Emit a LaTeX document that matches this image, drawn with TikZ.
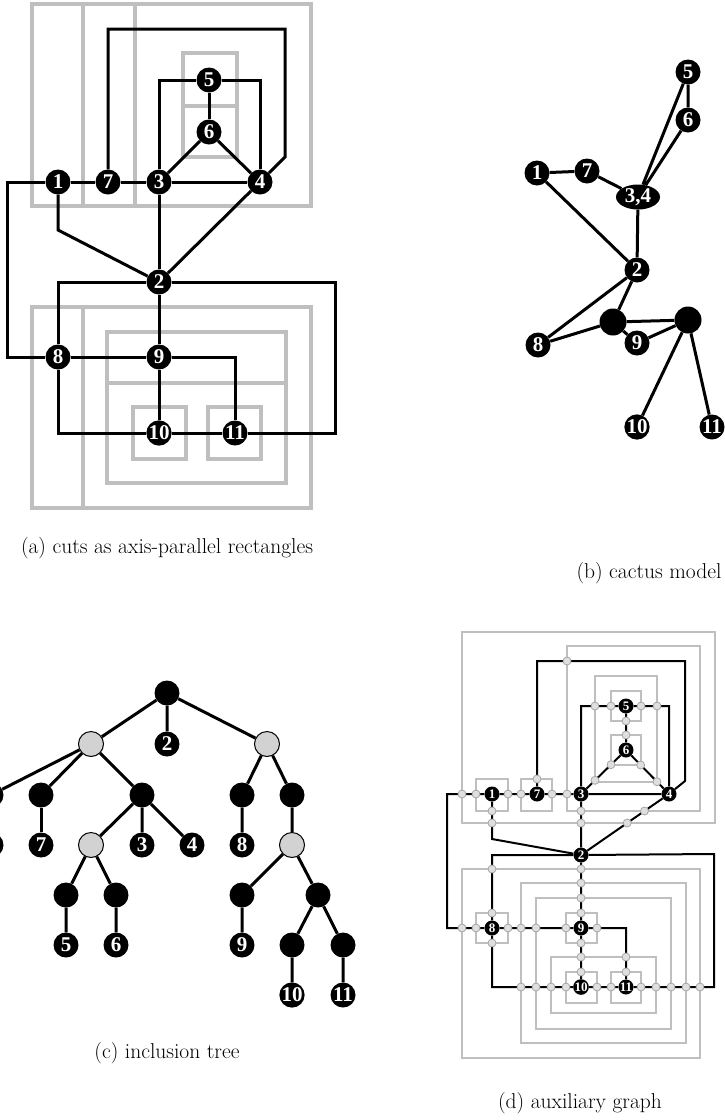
\documentclass[tikz,border=0pt]{standalone}
\usepackage{fontspec}
\usetikzlibrary{shapes.geometric,intersections}
\newfontfamily\numfont{Liberation Serif}

\tikzset{
  vtx/.style={circle,fill=black,text=white,inner sep=0pt,minimum size=25pt,
    font=\numfont\bfseries\fontsize{21}{21}\selectfont},
  svtx/.style={circle,fill=black,text=white,inner sep=0pt,minimum size=15pt,
    font=\numfont\bfseries\fontsize{13}{13}\selectfont},
  gvtx/.style={circle,fill=gray!35,draw=black,line width=1pt,inner sep=0pt,minimum size=25pt},
  link/.style={line width=3pt},
  slink/.style={line width=2pt},
  cut/.style={draw=gray!50,line width=3.5pt},
  scut/.style={draw=gray!50,line width=2.5pt},
  xing/.style={circle,draw=gray!70,fill=gray!25,line width=0.8pt,inner sep=0pt,minimum size=8pt},
  capt/.style={font=\fontsize{21.5}{24}\selectfont}
}

\begin{document}
\begin{tikzpicture}[x=1pt,y=-1pt]
\useasboundingbox (0,0) rectangle (725,1120);
\clip (0,0) rectangle (725,1120);

\draw[cut] (32,4) rectangle (83,206) (83,4) rectangle (135,206) (135,4) rectangle (311,206)
    (183,53) rectangle (237,106) (183,106) rectangle (237,157);
\draw[cut] (32,307) rectangle (83,508) (83,307) rectangle (311,508)
    (107,332) rectangle (286,383) (107,383) rectangle (286,483)
    (133,407) rectangle (186,459) (208,407) rectangle (261,459);

\node[vtx] (a1) at (58,182) {1};
\node[vtx] (a7) at (108,182) {7};
\node[vtx] (a3) at (159,182) {3};
\node[vtx] (a4) at (260,182) {4};
\node[vtx] (a5) at (209,80) {5};
\node[vtx] (a6) at (209,132) {6};
\node[vtx] (a2) at (159,282) {2};
\node[vtx] (a8) at (58,357) {8};
\node[vtx] (a9) at (159,357) {9};
\node[vtx] (a10) at (159,433) {10};
\node[vtx] (a11) at (235,433) {11};

\draw[link] (a1) -- (a7) -- (a3) -- (a4);
\draw[link] (a1) -- (7,182) |- (a8);
\draw[link] (a7) |- (285,29) -- (285,157) -- (a4);
\draw[link] (a3) |- (a5) -| (a4);
\draw[link] (a5) -- (a6);
\draw[link] (a6) -- (a3);
\draw[link] (a6) -- (a4);
\draw[link] (a1) -- (58,230) -- (a2);
\draw[link] (a3) -- (a2);
\draw[link] (a4) -- (a2);
\draw[link] (a2) -| (a8);
\draw[link] (a2) -- (335,282) |- (a11);
\draw[link] (a2) -- (a9) -- (a10) -- (a11);
\draw[link] (a8) -- (a9) -| (a11);
\draw[link] (a8) |- (a10);

\node[capt] (capa) at (167,548) {(a) cuts as axis-parallel rectangles};

\node[vtx] (b5) at (688,72) {5};
\node[vtx] (b6) at (688,120) {6};
\node[vtx] (b1) at (537,173) {1};
\node[vtx] (b7) at (587,171) {7};
\node[ellipse,fill=black,text=white,inner sep=0pt,minimum width=44pt,minimum height=25pt,
    font=\numfont\bfseries\fontsize{21}{21}\selectfont] (b34) at (638,197) {3,4};
\node[vtx] (b2) at (637,270) {2};
\node[vtx,minimum size=27pt] (bx) at (613,322) {};
\node[vtx,minimum size=27pt] (by) at (688,320) {};
\node[vtx] (b8) at (538,345) {8};
\node[vtx] (b9) at (637,343) {9};
\node[vtx] (b10) at (637,427) {10};
\node[vtx] (b11) at (712,427) {11};

\draw[link] (b1) -- (b7) -- (b34) -- (b5) -- (b6) -- (b34);
\draw[link] (b1) -- (b2) -- (b34);
\draw[link] (b2) -- (b8) -- (bx) -- (b2);
\draw[link] (bx) -- (by) -- (b9) -- (bx);
\draw[link] (by) -- (b10);
\draw[link] (by) -- (b11);

\node[capt] (capb) at (649,573) {(b) cactus model};

\node[vtx] (r) at (167,693) {};
\node[gvtx] (gL) at (91,744) {};
\node[vtx] (t2) at (167,744) {2};
\node[gvtx] (gR) at (267,744) {};
\node[vtx] (p1) at (-9,795) {};
\node[vtx] (p7) at (41,795) {};
\node[vtx] (p34) at (142,795) {};
\node[vtx] (p8) at (242,795) {};
\node[vtx] (pR) at (292,795) {};
\node[vtx] (t1) at (-9,845) {};
\node[vtx] (t7) at (41,845) {7};
\node[gvtx] (g56) at (91,845) {};
\node[vtx] (t3) at (142,845) {3};
\node[vtx] (t4) at (192,845) {4};
\node[vtx] (t8) at (242,845) {8};
\node[gvtx] (g911) at (292,845) {};
\node[vtx] (p5) at (66,895) {};
\node[vtx] (p6) at (116,895) {};
\node[vtx] (p9) at (242,895) {};
\node[vtx] (p1011) at (318,895) {};
\node[vtx] (t5) at (66,945) {5};
\node[vtx] (t6) at (116,945) {6};
\node[vtx] (t9) at (242,945) {9};
\node[vtx] (p10) at (292,945) {};
\node[vtx] (p11) at (343,945) {};
\node[vtx] (t10) at (292,995) {10};
\node[vtx] (t11) at (343,995) {11};

\draw[link] (r) -- (gL) (r) -- (t2) (r) -- (gR);
\draw[link] (gL) -- (p1) (gL) -- (p7) (gL) -- (p34);
\draw[link] (p1) -- (t1) (p7) -- (t7);
\draw[link] (p34) -- (g56) (p34) -- (t3) (p34) -- (t4);
\draw[link] (g56) -- (p5) (g56) -- (p6) (p5) -- (t5) (p6) -- (t6);
\draw[link] (gR) -- (p8) (gR) -- (pR) (p8) -- (t8) (pR) -- (g911);
\draw[link] (g911) -- (p9) (g911) -- (p1011) (p9) -- (t9);
\draw[link] (p1011) -- (p10) (p1011) -- (p11) (p10) -- (t10) (p11) -- (t11);

\node[capt] (capc) at (167,1053) {(c) inclusion tree};

\path[name path=auxC] (462,632) rectangle (715,823) (567,646) rectangle (700,811)
    (595,676) rectangle (657,782) (611,691) rectangle (641,721) (611,735) rectangle (641,765)
    (476,779) rectangle (508,811) (521,779) rectangle (552,811)
    (462,869) rectangle (700,1058) (521,883) rectangle (686,1043) (536,898) rectangle (671,1029)
    (551,957) rectangle (656,1013) (476,913) rectangle (508,943) (566,913) rectangle (597,943)
    (566,972) rectangle (597,1003) (611,972) rectangle (641,1003);
\draw[scut] (462,632) rectangle (715,823) (567,646) rectangle (700,811)
    (595,676) rectangle (657,782) (611,691) rectangle (641,721) (611,735) rectangle (641,765)
    (476,779) rectangle (508,811) (521,779) rectangle (552,811)
    (462,869) rectangle (700,1058) (521,883) rectangle (686,1043) (536,898) rectangle (671,1029)
    (551,957) rectangle (656,1013) (476,913) rectangle (508,943) (566,913) rectangle (597,943)
    (566,972) rectangle (597,1003) (611,972) rectangle (641,1003);

\node[svtx] (d1) at (492,794) {1};
\node[svtx] (d7) at (537,794) {7};
\node[svtx] (d3) at (581,794) {3};
\node[svtx] (d4) at (669,794) {4};
\node[svtx] (d5) at (626,706) {5};
\node[svtx] (d6) at (626,750) {6};
\node[svtx] (d2) at (581,855) {2};
\node[svtx] (d8) at (492,928) {8};
\node[svtx] (d9) at (581,928) {9};
\node[svtx] (d10) at (581,987) {10};
\node[svtx] (d11) at (626,987) {11};

\draw[slink,name path=auxE] (d1) -- (d7) (d7) -- (d3) (d3) -- (d4)
    (d1) -- (447,794) |- (d8)
    (d7) |- (685,661) -- (685,781) -- (d4)
    (d3) |- (d5) (d5) -| (d4) (d5) -- (d6) (d6) -- (d3) (d6) -- (d4)
    (d1) -- (492,839) -- (d2) (d3) -- (d2) (d4) -- (d2)
    (d2) -| (d8) (d2) -- (714,854) |- (d11)
    (d2) -- (d9) (d9) -- (d10) (d10) -- (d11)
    (d8) -- (d9) (d9) -| (d11) (d8) |- (d10);

\path[name intersections={of=auxE and auxC,name=x,total=\t}]
    \foreach \s in {1,...,\t} {node[xing] at (x-\s) {}};

\node[capt] (capd) at (580,1103) {(d) auxiliary graph};
\end{tikzpicture}
\end{document}
